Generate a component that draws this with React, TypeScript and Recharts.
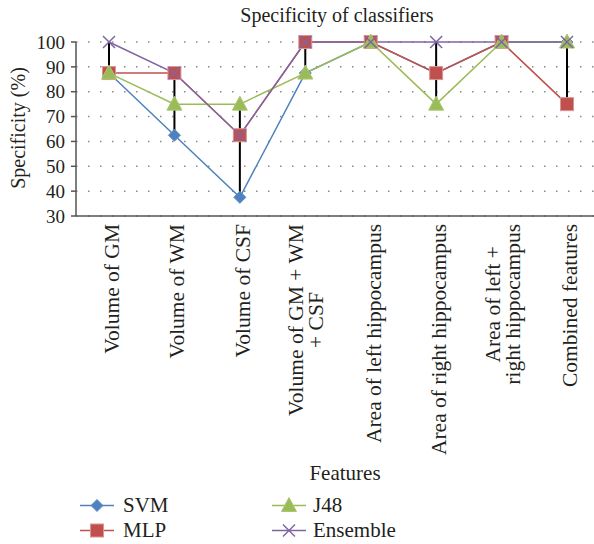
import React from 'react';
import { ComposedChart, Line, XAxis, YAxis, CartesianGrid, Legend, ErrorBar } from 'recharts';

const categories = [
  'Volume of GM',
  'Volume of WM',
  'Volume of CSF',
  'Volume of GM + WM + CSF',
  'Area of left hippocampus',
  'Area of right hippocampus',
  'Area of left + right hippocampus',
  'Combined features',
];
const tickLines = [
  ['Volume of GM'],
  ['Volume of WM'],
  ['Volume of CSF'],
  ['Volume of GM + WM', '+ CSF'],
  ['Area of left hippocampus'],
  ['Area of right hippocampus'],
  ['Area of left +', 'right hippocampus'],
  ['Combined features'],
];
const svm = [87.5, 62.5, 37.5, 87.5, 100, 87.5, 100, 100];
const mlp = [87.5, 87.5, 62.5, 100, 100, 87.5, 100, 75];
const j48 = [87.5, 75, 75, 87.5, 100, 75, 100, 100];
const ensemble = [100, 87.5, 62.5, 100, 100, 100, 100, 100];
const yTicks = [30, 40, 50, 60, 70, 80, 90, 100];
const seriesNames = ['SVM', 'MLP', 'J48', 'Ensemble'];

const data = categories.map((name, i) => {
  const vals = [svm[i], mlp[i], j48[i], ensemble[i]];
  const lo = Math.min(...vals);
  const hi = Math.max(...vals);
  return { name, idx: i, SVM: svm[i], MLP: mlp[i], J48: j48[i], Ensemble: ensemble[i], low: lo, hl: [0, hi - lo] };
});

const FONT = '"Liberation Serif", "Times New Roman", serif';
const FS_TICK = 19;
const FS_X = 21.5;
const FS_LEG = 21;
const FS_TITLE = 20;
const TEXT = '#231f20';

const COLORS: Record<string, string> = {
  SVM: '#4f81bd',
  MLP: '#c0504d',
  J48: '#9bbb59',
  Ensemble: '#8064a2',
};

function Marker({ type, cx, cy }: { type: string; cx: number; cy: number }) {
  if (cx == null || cy == null || isNaN(cx) || isNaN(cy)) return null;
  if (type === 'SVM') {
    const r = 6;
    return (
      <polygon
        points={`${cx},${cy - r} ${cx + r},${cy} ${cx},${cy + r} ${cx - r},${cy}`}
        fill={COLORS.SVM}
        stroke="#5b8cc8"
        strokeWidth={1}
      />
    );
  }
  if (type === 'MLP') {
    const s = 13;
    return <rect x={cx - s / 2} y={cy - s / 2} width={s} height={s} fill={COLORS.MLP} stroke="#d99694" strokeWidth={1} />;
  }
  if (type === 'J48') {
    return (
      <polygon
        points={`${cx},${cy - 8} ${cx + 7.5},${cy + 6} ${cx - 7.5},${cy + 6}`}
        fill={COLORS.J48}
        stroke="#a9c770"
        strokeWidth={1}
      />
    );
  }
  const r = 6;
  return (
    <g stroke={COLORS.Ensemble} strokeWidth={1.5}>
      <line x1={cx - r} y1={cy - r} x2={cx + r} y2={cy + r} />
      <line x1={cx - r} y1={cy + r} x2={cx + r} y2={cy - r} />
    </g>
  );
}

let ctx: CanvasRenderingContext2D | null = null;
function measure(t: string) {
  if (!ctx) ctx = document.createElement('canvas').getContext('2d');
  if (!ctx) return t.length * FS_X * 0.45;
  ctx.font = `${FS_X}px ${FONT}`;
  return ctx.measureText(t).width;
}

function XTick(props: any) {
  const { x, y, payload } = props;
  const i = payload && payload.index != null ? payload.index : props.index;
  const lines = tickLines[i] || [String(payload.value)];
  const n = lines.length;
  const maxW = Math.max(...lines.map(measure));
  const cy = y + 8 + maxW / 2;
  return (
    <g>
      {lines.map((l, k) => {
        const bx = x + 10 - 12 * (n - 1) + 20 * k;
        return (
          <text
            key={k}
            transform={`translate(${bx},${cy}) rotate(-90)`}
            textAnchor="middle"
            fontFamily={FONT}
            fontSize={FS_X}
            fill={TEXT}
          >
            {l}
          </text>
        );
      })}
    </g>
  );
}

function LegendContent(props: any) {
  const payload = (props.payload || [])
    .filter((p: any) => seriesNames.includes(p.value))
    .sort((a: any, b: any) => seriesNames.indexOf(a.value) - seriesNames.indexOf(b.value));
  return (
    <div style={{ position: 'relative', width: 600, height: 56 }}>
      {payload.map((p: any, k: number) => {
        const col = Math.floor(k / 2);
        const row = k % 2;
        const lineLeft = col === 0 ? 80 : 272;
        const textLeft = col === 0 ? 123 : 313;
        const top = 5 + row * 25;
        return (
          <React.Fragment key={p.value}>
            <svg width={36} height={25} style={{ position: 'absolute', left: lineLeft - 1, top }}>
              <line x1={1} x2={35} y1={12.5} y2={12.5} stroke={COLORS[p.value]} strokeWidth={1.5} />
              <Marker type={p.value} cx={18} cy={12.5} />
            </svg>
            <span
              style={{
                position: 'absolute',
                left: textLeft,
                top,
                height: 25,
                lineHeight: '25px',
                fontFamily: FONT,
                fontSize: FS_LEG,
                color: TEXT,
                whiteSpace: 'nowrap',
              }}
            >
              {p.value}
            </span>
          </React.Fragment>
        );
      })}
    </div>
  );
}

export default function App() {
  return (
    <div style={{ position: 'fixed', left: 0, top: 0, width: 594, height: 544, overflow: 'hidden', background: '#fff' }}>
      <div
        style={{
          position: 'absolute',
          left: 337,
          top: 4,
          transform: 'translateX(-50%)',
          fontFamily: FONT,
          fontSize: FS_TITLE,
          lineHeight: '22px',
          color: TEXT,
          whiteSpace: 'nowrap',
        }}
      >
        Specificity of classifiers
      </div>
      <ComposedChart width={608} height={544} data={data} margin={{ top: 42, right: 8, bottom: 0, left: 0 }}>
        <CartesianGrid horizontal vertical={false} stroke="#8a8a8a" strokeWidth={1.5} strokeDasharray="1.5 10.5" />
        <XAxis
          dataKey="name"
          interval={0}
          height={272}
          padding={{ left: 33, right: 33 }}
          tickLine={false}
          tickSize={0}
          tickMargin={0}
          axisLine={{ stroke: '#555', strokeWidth: 1.5 }}
          tick={<XTick />}
          label={{
            value: 'Features',
            position: 'insideBottom',
            offset: 8,
            dx: 7,
            fontFamily: FONT,
            fontSize: FS_LEG,
            fill: TEXT,
          }}
        />
        <YAxis
          type="number"
          domain={[30, 100]}
          ticks={yTicks}
          interval={0}
          width={76}
          tickLine={{ stroke: '#555', strokeWidth: 1.5 }}
          tickSize={5}
          tickMargin={6}
          axisLine={{ stroke: '#555', strokeWidth: 1.5 }}
          tick={{ fontFamily: FONT, fontSize: FS_TICK, fill: TEXT }}
          label={{
            content: (p: any) => {
              const vb = p.viewBox || { x: 0, y: 42, height: 174 };
              const cy = vb.y + vb.height / 2 - 1;
              return (
                <text
                  transform={`translate(25,${cy}) rotate(-90)`}
                  textAnchor="middle"
                  fontFamily={FONT}
                  fontSize={FS_TITLE}
                  fill={TEXT}
                >
                  Specificity (%)
                </text>
              );
            },
          }}
        />
        <Legend verticalAlign="bottom" content={<LegendContent />} />
        {seriesNames.map((s) => (
          <Line
            key={s}
            type="linear"
            dataKey={s}
            stroke={COLORS[s]}
            strokeWidth={1.5}
            isAnimationActive={false}
            activeDot={false}
            dot={(p: any) => (
              <g key={`${s}-${p.index}`}>
                <Marker type={s} cx={p.cx} cy={p.cy} />
              </g>
            )}
          />
        ))}
        <Line dataKey="low" stroke="none" dot={false} activeDot={false} legendType="none" isAnimationActive={false}>
          <ErrorBar dataKey="hl" width={0} stroke="#000" strokeWidth={2} direction="y" isAnimationActive={false} />
        </Line>
      </ComposedChart>
    </div>
  );
}
